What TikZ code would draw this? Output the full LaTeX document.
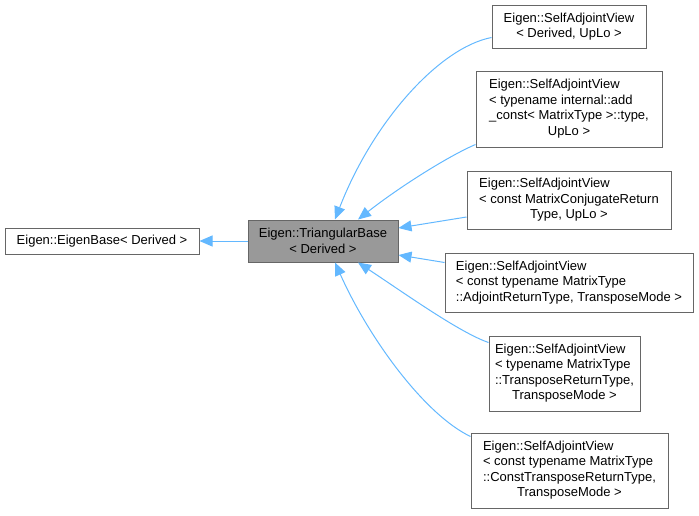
\documentclass[tikz,border=0pt]{standalone}
\usepackage{fontspec}
\setmainfont{Liberation Sans}
\usepackage{xcolor}
\usetikzlibrary{arrows.meta,positioning}
\definecolor{edgeBlue}{RGB}{99,184,255}
\definecolor{frameGray}{RGB}{102,102,102}
\definecolor{baseGray}{RGB}{153,153,153}
\newcommand{\lastrow}[1]{\multicolumn{1}{@{}c@{}}{#1}}

\begin{document}
\begin{tikzpicture}[
            x=1pt, y=-1pt,
            cls/.style={rectangle, draw=frameGray, line width=1pt, fill=white, inner sep=0pt, align=center, font=\fontsize{13}{15.5}\selectfont},
            arrow/.style={-{Triangle[length=13pt,width=11pt]}, draw=edgeBlue, line width=1pt}
        ]
            \useasboundingbox (0,0) rectangle (699,515);
            \node[cls, minimum width=194pt, minimum height=26pt] (eb) at (102,241) {Eigen::EigenBase< Derived >};
            \node[cls, fill=baseGray, minimum width=150pt, minimum height=42pt] (tb) at (323,241) {Eigen::TriangularBase\\< Derived >};
            \node[cls, minimum width=154pt, minimum height=43pt] (sv1) at (569,26.5) {Eigen::SelfAdjointView\\< Derived, UpLo >};
            \node[cls, minimum width=186pt, minimum height=76pt] (sv2) at (569,109) {\begin{tabular}{@{}l@{}}Eigen::SelfAdjointView\\< typename internal::add\\\_const< MatrixType >::type,\\\lastrow{UpLo >}\end{tabular}};
            \node[cls, minimum width=204pt, minimum height=58pt] (sv3) at (569,200) {\begin{tabular}{@{}l@{}}Eigen::SelfAdjointView\\< const MatrixConjugateReturn\\\lastrow{Type, UpLo >}\end{tabular}};
            \node[cls, minimum width=248pt, minimum height=59pt] (sv4) at (569,282.5) {\begin{tabular}{@{}l@{}}Eigen::SelfAdjointView\\< const typename MatrixType\\::AdjointReturnType, TransposeMode >\end{tabular}};
            \node[cls, minimum width=151pt, minimum height=75pt] (sv5) at (564.5,373.5) {\begin{tabular}{@{}l@{}}Eigen::SelfAdjointView\\< typename MatrixType\\::TransposeReturnType,\\\lastrow{TransposeMode >}\end{tabular}};
            \node[cls, minimum width=197pt, minimum height=75pt] (sv6) at (569.5,470.5) {\begin{tabular}{@{}l@{}}Eigen::SelfAdjointView\\< const typename MatrixType\\::ConstTransposeReturnType,\\\lastrow{TransposeMode >}\end{tabular}};
            
            \draw[arrow] (tb) -- (eb);
            \draw[arrow] ([yshift=-11pt]sv1.west) .. controls +(-52,10) and +(38,-98) .. ([xshift=12pt]tb.north);
            \draw[arrow] ([yshift=3pt]sv2.south west) .. controls +(-26,11) and +(42,-33) .. ([xshift=35pt]tb.north);
            \draw[arrow] ([yshift=-17pt]sv3.west) -- ([yshift=13pt]tb.east);
            \draw[arrow] ([yshift=20pt]sv4.west) -- ([yshift=-14pt]tb.east);
            \draw[arrow] ([yshift=-7pt]sv5.north west) .. controls +(-29,-10) and +(47,31) .. ([xshift=35pt]tb.south);
            \draw[arrow] ([yshift=-4pt]sv6.north west) .. controls +(-46,-22) and +(34,76) .. ([xshift=12pt]tb.south);
        \end{tikzpicture}
\end{document}
